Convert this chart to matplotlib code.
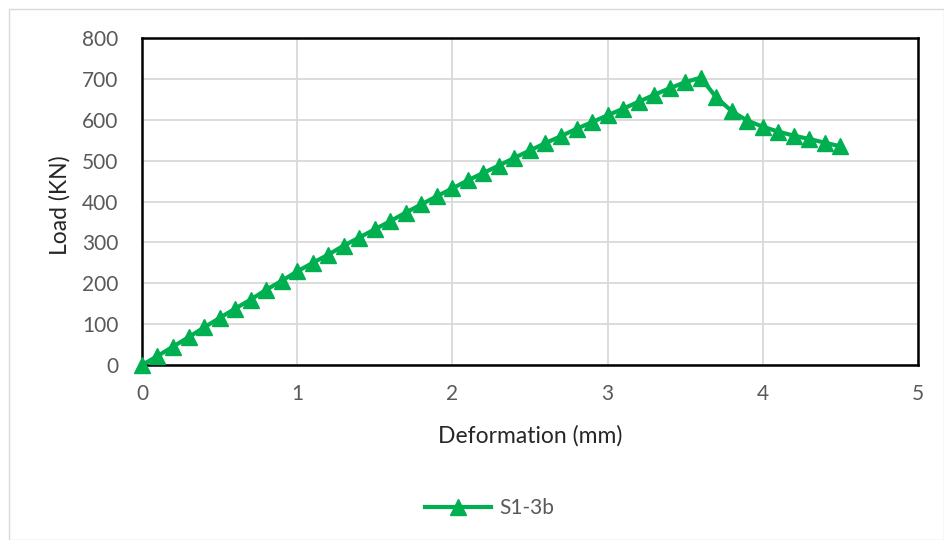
import matplotlib
matplotlib.use("Agg")
import matplotlib.pyplot as plt
from matplotlib.patches import Rectangle

# deformation (mm) and load (KN)
deformation = [0.0, 0.1, 0.2, 0.3, 0.4, 0.5, 0.6, 0.7, 0.8, 0.9,
               1.0, 1.1, 1.2, 1.3, 1.4, 1.5, 1.6, 1.7, 1.8, 1.9,
               2.0, 2.1, 2.2, 2.3, 2.4, 2.5, 2.6, 2.7, 2.8, 2.9,
               3.0, 3.1, 3.2, 3.3, 3.4, 3.5, 3.6, 3.7, 3.8, 3.9,
               4.0, 4.1, 4.2, 4.3, 4.4, 4.5]
load = [0, 22, 45, 68, 92, 115, 138, 160, 184, 206,
        229, 250, 270, 292, 312, 332, 352, 373, 393, 413,
        432, 452, 470, 488, 507, 525, 543, 560, 578, 594,
        611, 627, 644, 661, 677, 692, 703, 655, 621, 598,
        583, 571, 561, 553, 544, 535]
series_name = "S1-3b"

xticks = [0, 1, 2, 3, 4, 5]
yticks = [0, 100, 200, 300, 400, 500, 600, 700, 800]

plt.rcParams['font.family'] = ['Lato', 'DejaVu Sans']
green = '#00B050'
grey = '#595959'

fig = plt.figure(figsize=(9.44, 5.4), dpi=100)
ax = fig.add_axes([0.1504, 0.324, 0.822, 0.6056])

ax.plot(deformation, load, color=green, lw=3, marker='^', ms=11,
        label=series_name, clip_on=False, zorder=3)

ax.set_xlim(0, 5)
ax.set_ylim(0, 800)
ax.set_xticks(xticks)
ax.set_yticks(yticks)
ax.grid(True, color='#d9d9d9', lw=1.3)
ax.set_axisbelow(True)
for s in ax.spines.values():
    s.set_color('black')
    s.set_linewidth(1.8)
ax.tick_params(axis='y', length=0, labelsize=15, labelcolor=grey, pad=17)
ax.tick_params(axis='x', length=0, labelsize=15, labelcolor=grey, pad=14)

ax.set_xlabel("Deformation (mm)", fontsize=16.5, color='#262626', labelpad=15)
ax.set_ylabel("Load (KN)", fontsize=16.5, color='#262626',
              ha='center', va='center', rotation_mode='anchor')
ax.yaxis.set_label_coords(-0.106, 0.49)

leg = ax.legend(loc='center', bbox_to_anchor=(0.448, -0.437), frameon=False,
                fontsize=15, handlelength=3.2, handletextpad=0.4)
for t in leg.get_texts():
    t.set_color(grey)

fig.patches.append(Rectangle((9/944, 0), 1 - 9/944, 1 - 9/540, transform=fig.transFigure,
                             fill=False, edgecolor='#d9d9d9', lw=1))

fig.savefig("out.png", dpi=100)
